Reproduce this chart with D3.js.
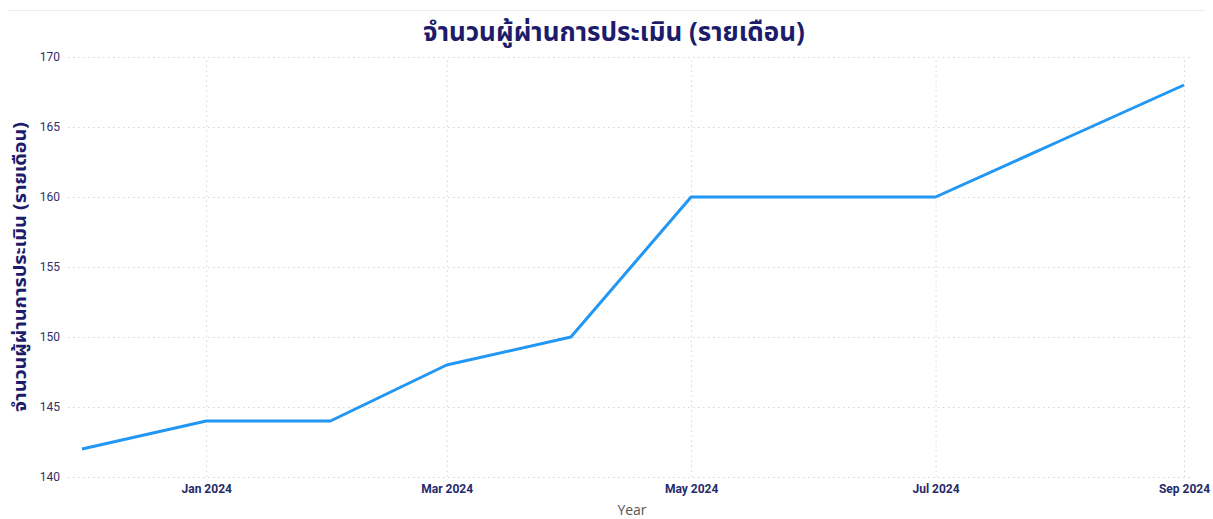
<!DOCTYPE html>
<html lang="th">
<head>
<meta charset="UTF-8" />
<title>จำนวนผู้ผ่านการประเมิน (รายเดือน)</title>
<style>
  body { margin: 0; background: #fff; }
  svg { display: block; }
  .grid line { stroke: #d4d4d4; stroke-dasharray: 1.5 3.5; }
  .grid path { display: none; }
</style>
</head>
<body>
<script src="https://d3js.org/d3.v7.min.js"></script>
<script>
var w = 1213;
var h = 519;

// data
var months = ["2023-12", "2024-01", "2024-02", "2024-03", "2024-04", "2024-05", "2024-06", "2024-07", "2024-08", "2024-09"];
var passed = [142, 144, 144, 148, 150, 160, 160, 160, 164, 168];
var yTicks = [140, 145, 150, 155, 160, 165, 170];

var parse = d3.timeParse("%Y-%m");
var data = months.map(function(m, i) { return { date: parse(m), value: passed[i] }; });

var svg = d3.select("body").append("svg")
  .attr("width", w)
  .attr("height", h);

// faint top border
svg.append("line")
  .attr("x1", 8).attr("x2", w - 8)
  .attr("y1", 10.5).attr("y2", 10.5)
  .attr("stroke", "#ececec");

var x = d3.scaleTime()
  .domain([parse("2023-12"), parse("2024-09")])
  .range([82, 1184]);

var y = d3.scaleLinear()
  .domain([140, 170])
  .range([477, 57]);

// horizontal grid
svg.append("g")
  .attr("class", "grid")
  .attr("transform", "translate(68,0)")
  .call(d3.axisLeft(y).tickValues(yTicks).tickSize(-1122).tickFormat(""));

// vertical grid
var xTicks = x.ticks(d3.timeMonth.every(2));
svg.append("g")
  .attr("class", "grid")
  .attr("transform", "translate(0,477)")
  .call(d3.axisBottom(x).tickValues(xTicks).tickSize(-420).tickFormat(""));

// y axis labels
var yAxis = svg.append("g")
  .attr("transform", "translate(60,0)")
  .call(d3.axisLeft(y).tickValues(yTicks).tickSize(0).tickPadding(0));
yAxis.select(".domain").remove();
yAxis.selectAll("text")
  .attr("fill", "#2b2f6b")
  .style("font-family", "Roboto, 'Open Sans', sans-serif")
  .style("font-size", "12px");

// x axis labels
var xAxis = svg.append("g")
  .attr("transform", "translate(0,484)")
  .call(d3.axisBottom(x).tickValues(xTicks).tickSize(0).tickPadding(0).tickFormat(d3.timeFormat("%b %Y")));
xAxis.select(".domain").remove();
xAxis.selectAll("text")
  .attr("fill", "#252a6b")
  .style("font-family", "Roboto, 'Open Sans', sans-serif")
  .style("font-weight", "bold")
  .style("font-size", "12px");

// line
var line = d3.line()
  .x(function(d) { return x(d.date); })
  .y(function(d) { return y(d.value); });

svg.append("path")
  .datum(data)
  .attr("fill", "none")
  .attr("stroke", "#2196f3")
  .attr("stroke-width", 3)
  .attr("stroke-linejoin", "round")
  .attr("d", line);

// title
svg.append("text")
  .attr("x", 614)
  .attr("y", 41)
  .attr("text-anchor", "middle")
  .attr("fill", "#1c1c6a")
  .style("font-family", "'Noto Sans', 'Noto Sans Thai', sans-serif")
  .style("font-weight", "bold")
  .style("font-size", "26px")
  .text("จำนวนผู้ผ่านการประเมิน (รายเดือน)");

// y axis title
svg.append("text")
  .attr("transform", "translate(26,267) rotate(-90)")
  .attr("text-anchor", "middle")
  .attr("fill", "#1c1c6a")
  .attr("textLength", 290)
  .attr("lengthAdjust", "spacingAndGlyphs")
  .style("font-family", "'Noto Sans', 'Noto Sans Thai', sans-serif")
  .style("font-weight", "bold")
  .style("font-size", "17px")
  .text("จำนวนผู้ผ่านการประเมิน (รายเดือน)");

// x axis title
svg.append("text")
  .attr("x", 632)
  .attr("y", 515)
  .attr("text-anchor", "middle")
  .attr("fill", "#555")
  .style("font-family", "'Open Sans', sans-serif")
  .style("font-size", "14px")
  .text("Year");
</script>
</body>
</html>
